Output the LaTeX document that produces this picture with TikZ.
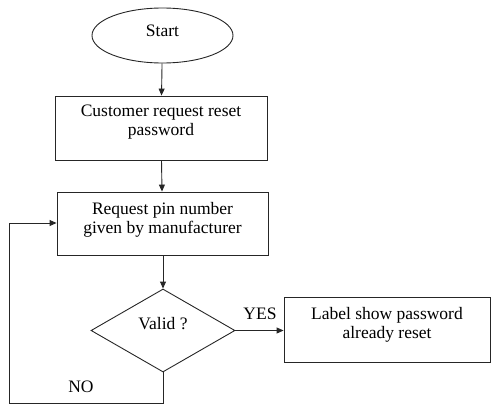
\documentclass[tikz,border=0pt]{standalone}
\usepackage{fontspec}
\setmainfont{Liberation Serif}
\usetikzlibrary{shapes.geometric,arrows.meta}
\begin{document}
\begin{tikzpicture}[x=1pt,y=-1pt,
  line/.style={draw=black!85,line width=0.9pt},
  arr/.style={line,-{Triangle[length=7pt,width=6pt]}},
  txt/.style={font=\fontsize{17.5}{19}\selectfont,align=center,inner sep=0pt},
  boxshape/.style={line,rectangle,inner sep=0pt},
]
\useasboundingbox (0,0) rectangle (491,407);
\node[line,ellipse,minimum width=141pt,minimum height=55pt,inner sep=0pt] (start) at (162.5,35.5) {};
\node[boxshape,minimum width=212pt,minimum height=64pt] (b1) at (161,128) {};
\node[boxshape,minimum width=211pt,minimum height=63pt] (b2) at (162.5,223.5) {};
\node[line,diamond,minimum width=144pt,minimum height=83pt,inner sep=0pt] (dec) at (163,330.5) {};
\node[boxshape,minimum width=206pt,minimum height=65pt] (b3) at (387,329.5) {};
\node[txt] at ([yshift=5pt]start.center) {Start};
\node[txt] at ([yshift=5.5pt]b1.center) {Customer request reset\\password};
\node[txt] at ([yshift=4pt]b2.center) {Request pin number\\given by manufacturer};
\node[txt] at ([yshift=7pt]dec.center) {Valid ?};
\node[txt] at ([yshift=5pt]b3.center) {Label show password\\already reset};
\node[txt] (yes) at (260,314) {YES};
\node[txt] (no) at (81,387) {NO};
\coordinate (c1) at (163,403);
\coordinate (c2) at (9,403);
\coordinate (c3) at (9,223);
\draw[arr] (start) -- (b1);
\draw[arr] (b1) -- (b2);
\draw[arr] (b2.south -| dec.north) -- (dec.north);
\draw[arr] (dec.east) -- (b3.west |- dec.east);
\draw[arr] (dec.south) -- (c1) -- (c2) -- (c3) -- (b2.west |- c3);
\end{tikzpicture}
\end{document}
